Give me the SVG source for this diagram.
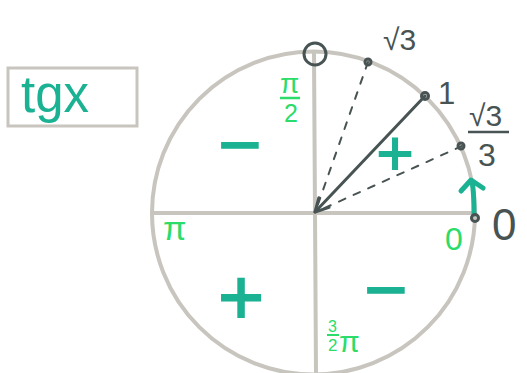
<svg xmlns="http://www.w3.org/2000/svg" width="527" height="373" viewBox="0 0 527 373">
<defs>
<style>
.g{fill:none;stroke:#c8c5bf;stroke-width:4;stroke-linecap:round}
.d{fill:none;stroke:#485353;stroke-width:3;stroke-linecap:round;stroke-linejoin:round}
.ds{fill:none;stroke:#485353;stroke-width:2;stroke-dasharray:7 9;stroke-linecap:round}
.t{fill:none;stroke:#1bb193;stroke-width:5;stroke-linecap:round;stroke-linejoin:round}
.lab{font-family:"Liberation Sans",sans-serif;fill:#485353}
.gr{font-family:"Liberation Sans",sans-serif;fill:#2bdc6a}
.sg{font-family:"DejaVu Sans",sans-serif;fill:#1bb193;font-weight:bold;text-anchor:middle}
</style>
<marker id="ah" viewBox="0 0 20 20" refX="18" refY="10" markerWidth="20" markerHeight="20" markerUnits="userSpaceOnUse" orient="auto">
<path d="M5 3 L18 10 L5 17" fill="none" stroke="#485353" stroke-width="3" stroke-linecap="round" stroke-linejoin="round"/>
</marker>
</defs>
<rect width="527" height="373" fill="#ffffff"/>
<g id="title">
<rect x="8" y="68" width="129" height="58" fill="none" stroke="#c8c5bf" stroke-width="3"/>
<text x="21" y="112" font-family="Liberation Sans, sans-serif" font-size="51" fill="#1bb193">tgx</text>
</g>
<g id="circle">
<circle cx="313.5" cy="213" r="161.5" class="g"/>
<line x1="152" y1="213" x2="475" y2="213" class="g"/>
<line x1="314" y1="53" x2="316" y2="372" class="g"/>
</g>
<g id="connectors">
<line x1="368" y1="62" x2="316" y2="210" class="ds"/>
<line x1="462" y1="146" x2="318" y2="211" class="ds"/>
<line x1="425" y1="96" x2="315" y2="212" class="d" marker-end="url(#ah)"/>
<path d="M474 214 C474 200 474 192 472 181" class="t"/>
<path d="M461 191 L471 180 L483 188" class="t"/>
</g>
<g id="points">
<circle cx="315" cy="54" r="11" class="d" stroke-width="3.5"/>
<circle cx="368" cy="62" r="3" class="d"/>
<circle cx="425" cy="96" r="3.5" class="d"/>
<circle cx="461" cy="146" r="3" class="d"/>
<circle cx="475" cy="218" r="3.5" class="d" fill="#485353"/>
</g>
<g id="labels">
<text x="383" y="50" font-size="30" class="lab">√3</text>
<text x="438" y="104" font-size="31" class="lab">1</text>
<text x="469" y="126" font-size="30" class="lab">√3</text>
<line x1="468" y1="132" x2="509" y2="132" stroke="#485353" stroke-width="2.5"/>
<text x="478" y="166" font-size="32" class="lab">3</text>
<text x="492" y="240" font-size="44" class="lab">0</text>
</g>
<g id="green">
<text x="280" y="93" font-size="28" class="gr">π</text>
<line x1="280" y1="98" x2="300" y2="98" stroke="#2bdc6a" stroke-width="2.5"/>
<text x="284" y="122" font-size="25" class="gr">2</text>
<text x="163" y="240" font-size="34" class="gr">π</text>
<text x="445" y="250" font-size="32" class="gr">0</text>
<text x="328" y="332" font-size="16" class="gr">3</text>
<line x1="327" y1="335" x2="339" y2="335" stroke="#2bdc6a" stroke-width="2"/>
<text x="328" y="351" font-size="17" class="gr">2</text>
<text x="339" y="352" font-size="30" class="gr">π</text>
</g>
<g id="signs">
<text x="240" y="164" font-size="60" class="sg">−</text>
<text x="395" y="170" font-size="52" class="sg">+</text>
<text x="241" y="318" font-size="64" class="sg">+</text>
<text x="386" y="309" font-size="60" class="sg">−</text>
</g>
</svg>
